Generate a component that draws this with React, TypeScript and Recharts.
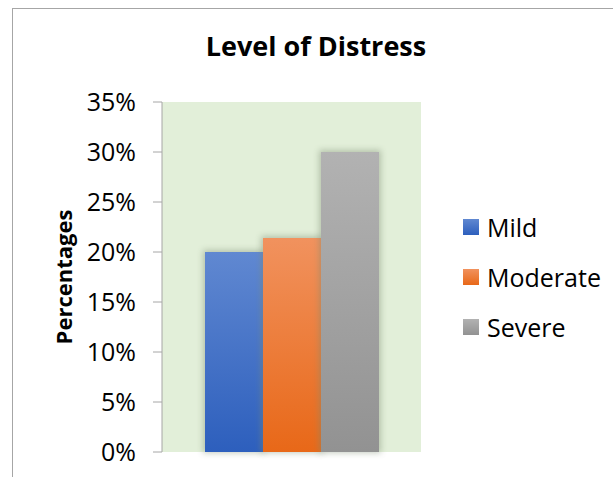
import React from 'react';
import { BarChart, Bar, XAxis, YAxis } from 'recharts';

// values
const categories = ['Level of Distress'];
const seriesNames = ['Mild', 'Moderate', 'Severe'];
const mildValues = [0.2];
const moderateValues = [0.214];
const severeValues = [0.3];
const yTicks = [0, 0.05, 0.1, 0.15, 0.2, 0.25, 0.3, 0.35];

const data = categories.map((name, i) => ({
  name,
  Mild: mildValues[i],
  Moderate: moderateValues[i],
  Severe: severeValues[i],
}));

const gradients: Record<string, [string, string]> = {
  Mild: ['#6088d1', '#2d5fbd'],
  Moderate: ['#f1925e', '#e86818'],
  Severe: ['#b2b2b2', '#929292'],
};

const FONT = '"Open Sans", sans-serif';

function LegendBox() {
  return (
    <div style={{ position: 'absolute', left: 463, top: 202, fontFamily: FONT, fontSize: 25, color: '#000' }}>
      {seriesNames.map((s) => {
        const [top, bottom] = gradients[s];
        return (
          <div key={s} style={{ display: 'flex', alignItems: 'center', height: 50 }}>
            <span
              style={{
                width: 16,
                height: 16,
                marginRight: 8,
                background: `linear-gradient(${top}, ${bottom})`,
                display: 'inline-block',
              }}
            />
            <span>{s}</span>
          </div>
        );
      })}
    </div>
  );
}

function AxisTitle({ viewBox }: any) {
  const cy = viewBox.y + viewBox.height / 2;
  const cx = 63;
  return (
    <text
      x={cx}
      y={cy}
      transform={`rotate(-90, ${cx}, ${cy})`}
      textAnchor="middle"
      dominantBaseline="central"
      fontFamily={FONT}
      fontWeight={700}
      fontSize={22}
      fill="#000"
    >
      Percentages
    </text>
  );
}

// plain rect with a soft outer shadow, like the Office bar effect
function ShadowBar(props: any) {
  const { x, y, width, height, fill } = props;
  return (
    <g>
      <rect x={x - 2} y={y - 2} width={width + 4} height={height + 3} fill="#7d8c72" opacity={0.45} filter="url(#barBlur)" />
      <rect x={x} y={y} width={width} height={height} fill={fill} />
    </g>
  );
}

export default function App() {
  return (
    <div style={{ position: 'absolute', left: 0, top: 0, width: 613, height: 477, background: '#fff', overflow: 'hidden' }}>
      {/* frame of the chart object */}
      <div style={{ position: 'absolute', left: 12, top: 8, width: 620, height: 480, borderLeft: '1.5px solid #a6a6a6', borderTop: '1.5px solid #a6a6a6' }} />
      <div
        style={{
          position: 'absolute',
          left: 0,
          width: 632,
          top: 26,
          textAlign: 'center',
          fontFamily: FONT,
          fontWeight: 700,
          fontSize: 27,
          lineHeight: '40px',
          color: '#000',
        }}
      >
        Level of Distress
      </div>
      <BarChart
        width={613}
        height={477}
        data={data}
        margin={{ top: 102, right: 192, bottom: 25, left: 0 }}
        barCategoryGap={43}
        barGap={0}
        style={{ position: 'absolute', left: 0, top: 0 }}
      >
        <defs>
          {seriesNames.map((s) => (
            <linearGradient key={s} id={`grad-${s}`} x1="0" y1="0" x2="0" y2="1">
              <stop offset="0%" stopColor={gradients[s][0]} />
              <stop offset="100%" stopColor={gradients[s][1]} />
            </linearGradient>
          ))}
          <filter id="barBlur" x="-50%" y="-20%" width="200%" height="140%">
            <feGaussianBlur stdDeviation="3" />
          </filter>
        </defs>
        <rect x={162} y={102} width={259} height={350} fill="#e2efd9" />
        <XAxis dataKey="name" hide />
        <YAxis
          width={162}
          domain={[0, 0.35]}
          ticks={yTicks}
          interval={0}
          tickFormatter={(v: number) => `${Math.round(v * 100)}%`}
          tick={{ fill: '#000', fontSize: 25, fontFamily: FONT }}
          tickSize={9}
          tickMargin={17}
          axisLine={{ stroke: '#a6a6a6' }}
          tickLine={{ stroke: '#a6a6a6' }}
          label={{ content: AxisTitle }}
        />
        {seriesNames.map((s) => (
          <Bar
            key={s}
            dataKey={s}
            fill={`url(#grad-${s})`}
            shape={ShadowBar}
            isAnimationActive={false}
          />
        ))}
      </BarChart>
      <LegendBox />
    </div>
  );
}
